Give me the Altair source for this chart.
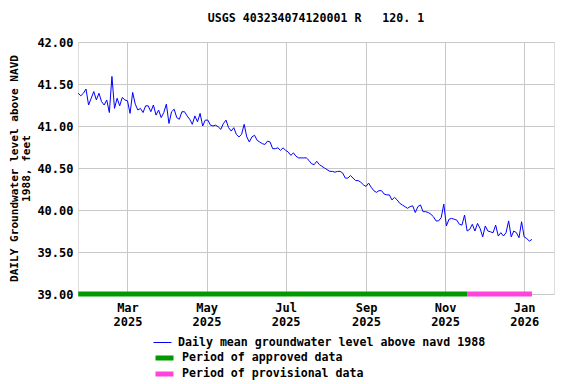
import altair as alt
import pandas as pd

# ---- data ----
start_date = "2025-01-22"   # first reading; readings every 2 days
levels = [
    41.39, 41.36, 41.39, 41.44, 41.25, 41.33, 41.41, 41.31, 41.39, 41.29,
    41.25, 41.31, 41.16, 41.59, 41.21, 41.33, 41.24, 41.34, 41.31, 41.30,
    41.15, 41.40, 41.26, 41.19, 41.21, 41.16, 41.24, 41.24, 41.17, 41.25,
    41.13, 41.19, 41.10, 41.16, 41.26, 41.03, 41.17, 41.20, 41.10, 41.08,
    41.17, 41.17, 41.12, 41.08, 41.02, 41.12, 41.05, 41.15, 41.00, 41.07,
    41.07, 41.01, 41.00, 41.01, 40.99, 40.96, 41.03, 41.07, 40.98, 40.94,
    40.98, 40.90, 40.87, 40.90, 41.02, 40.87, 40.81, 40.87, 40.89, 40.83,
    40.81, 40.79, 40.78, 40.82, 40.81, 40.73, 40.73, 40.74, 40.71, 40.74,
    40.71, 40.69, 40.65, 40.68, 40.64, 40.62, 40.62, 40.62, 40.62, 40.59,
    40.55, 40.54, 40.58, 40.54, 40.52, 40.50, 40.48, 40.46, 40.46, 40.45,
    40.46, 40.46, 40.44, 40.38, 40.38, 40.41, 40.38, 40.35, 40.35, 40.33,
    40.30, 40.28, 40.32, 40.27, 40.23, 40.21, 40.23, 40.23, 40.19, 40.18,
    40.18, 40.12, 40.15, 40.12, 40.08, 40.06, 40.04, 40.02, 40.04, 40.05,
    39.97, 40.04, 40.06, 39.98, 39.98, 39.97, 39.95, 39.92, 39.87, 39.87,
    39.91, 40.07, 39.81, 39.89, 39.90, 39.89, 39.88, 39.83, 39.82, 39.94,
    39.75, 39.77, 39.83, 39.75, 39.84, 39.78, 39.68, 39.81, 39.75, 39.74,
    39.73, 39.82, 39.69, 39.73, 39.69, 39.73, 39.87, 39.68, 39.75, 39.73,
    39.67, 39.86, 39.68, 39.66, 39.63, 39.65,
]
line_name = "Daily mean groundwater level above navd 1988"
line_color = "#0000ff"

period_names = ["Period of approved data", "Period of provisional data"]
period_colors = ["#009a00", "#ff44dd"]
period_start = ["2025-01-22", "2025-11-18"]
period_end = ["2025-11-18", "2026-01-07"]
period_level = [39.0, 39.0]

y_ticks = [39.0, 39.5, 40.0, 40.5, 41.0, 41.5, 42.0]
x_tick_months = [(2025, 3), (2025, 5), (2025, 7), (2025, 9), (2025, 11), (2026, 1)]

title_text = "USGS 403234074120001 R\u00a0\u00a0\u00a0120.\u00a01"
y_title = ["DAILY Groundwater level above NAVD", "1988, feet"]

FONT = "DejaVu Sans Mono"
txt = dict(labelFont=FONT, labelFontWeight="bold", labelFontSize=12, labelColor="black")
ttl = dict(titleFont=FONT, titleFontWeight="bold", titleFontSize=11.1, titleColor="black")
grid = dict(gridColor="#c8c8c8", gridWidth=1, gridOpacity=1)

# ---- tables ----
dates = pd.date_range(start_date, periods=len(levels), freq="2D").strftime("%Y-%m-%d")
line_df = pd.DataFrame({"date": dates, "level": levels, "series": line_name})
period_df = pd.DataFrame({"start": period_start, "end": period_end,
                          "level": period_level, "series": period_names})

x_scale = alt.Scale(
    type="utc",
    domain=[alt.DateTime(year=2025, month=1, date=21, hours=20, utc=True),
            alt.DateTime(year=2026, month=1, date=24, utc=True)],
)
y_scale = alt.Scale(domain=[39, 42], nice=False, zero=False)

x_axis = alt.Axis(
    values=[alt.DateTime(year=y, month=m, date=1, utc=True) for y, m in x_tick_months],
    labelExpr="[utcFormat(datum.value, '%b'), utcFormat(datum.value, '%Y')]",
    title=None, grid=True, ticks=False, domain=False,
    labelPadding=8, labelLineHeight=14, **txt, **grid,
)
y_axis = alt.Axis(
    values=y_ticks, format=".2f", title=y_title, grid=True, ticks=False,
    domain=False, labelPadding=5, titlePadding=5, titleLineHeight=12,
    **txt, **ttl, **grid,
)

leg = dict(title=None, orient="none", legendX=75, direction="vertical",
           symbolType="stroke", symbolSize=324, labelOffset=6,
           labelFont=FONT, labelFontWeight="bold", labelFontSize=11.6,
           labelColor="black", labelLimit=500)

bars = alt.Chart(period_df).mark_rule(strokeWidth=5).encode(
    x=alt.X("start:T", scale=x_scale, axis=x_axis),
    x2="end:T",
    y=alt.Y("level:Q", scale=y_scale, axis=y_axis),
    stroke=alt.Stroke(
        "series:N",
        scale=alt.Scale(domain=period_names, range=period_colors),
        legend=alt.Legend(legendY=308, symbolStrokeWidth=5, rowPadding=0,
                          clipHeight=16, **leg),
    ),
)

line = alt.Chart(line_df).mark_line(strokeWidth=1, interpolate="linear").encode(
    x=alt.X("date:T", scale=x_scale, axis=x_axis),
    y=alt.Y("level:Q", scale=y_scale, axis=y_axis),
    color=alt.Color(
        "series:N",
        scale=alt.Scale(domain=[line_name], range=[line_color]),
        legend=alt.Legend(legendY=291, symbolStrokeWidth=1, **leg),
    ),
)

chart = alt.layer(bars, line).properties(
    width=476, height=252,
    autosize=alt.AutoSizeParams(type="none"),
    padding={"left": 70, "top": 34, "right": 14, "bottom": 86},
    title=alt.TitleParams(
        text=title_text, font=FONT, fontSize=11.6, fontWeight="bold",
        color="black", anchor="middle", offset=11,
    ),
).configure_view(
    stroke="black", strokeWidth=2,
).configure(background="white")

chart.save("out.html", embed_options={"renderer": "svg", "actions": False})
